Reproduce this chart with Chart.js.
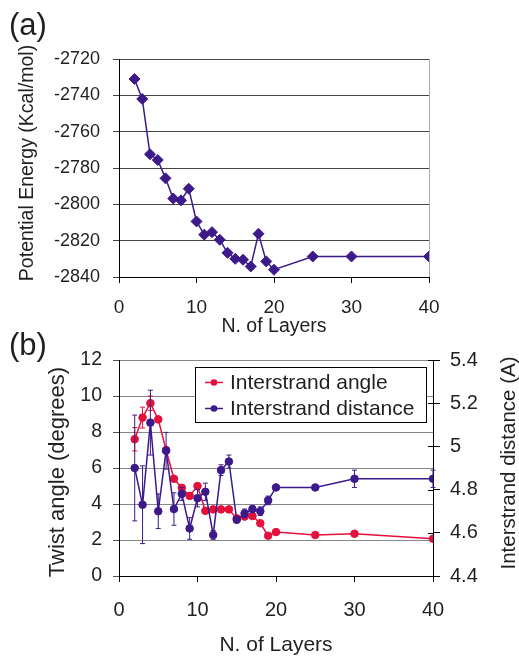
<!DOCTYPE html>
<html>
<head>
<meta charset="utf-8">
<script src="https://cdn.jsdelivr.net/npm/chart.js@4.4.0/dist/chart.umd.min.js"></script>
<style>
  html, body { margin: 0; padding: 0; background: #fff; }
  #wrap { position: relative; width: 519px; height: 656px; overflow: hidden; }
  canvas { position: absolute; left: 0; }
  #energy { top: 0; }
  #twist { top: 330px; }
</style>
</head>
<body>
<div id="wrap">
  <canvas id="energy" width="519" height="340"></canvas>
  <canvas id="twist" width="519" height="326"></canvas>
</div>
<script>
// number of layers (shared x values of both panels)
const layers = [2, 3, 4, 5, 6, 7, 8, 9, 10, 11, 12, 13, 14, 15, 16, 17, 18, 19, 20, 25, 30, 40];

// (a) potential energy, Kcal/mol
const energy = [-2731, -2742, -2772.4, -2775.6, -2785.7, -2796.8, -2797.8, -2791.4, -2809.4, -2816.7,
  -2815.3, -2819.5, -2826.7, -2830, -2830.5, -2834.2, -2816.2, -2831.4, -2836, -2828.7, -2828.7, -2828.7];

// (b) twist angle (degrees) and its error
const angle = [7.6, 8.8, 9.6, 8.7, 7.0, 5.4, 4.9, 4.45, 5.0, 3.62, 3.7, 3.7, 3.7, 3.2, 3.3, 3.33,
  2.93, 2.24, 2.44, 2.28, 2.35, 2.07];
const angleErr = [0.65, 0.58, 0.4, 0, 0, 0, 0, 0, 0, 0, 0, 0, 0, 0, 0, 0, 0, 0, 0, 0, 0, 0];

// (b) interstrand distance (A) and its error
const distance = [4.90, 4.73, 5.11, 4.70, 4.98, 4.71, 4.78, 4.62, 4.76, 4.79, 4.59, 4.89, 4.93, 4.66,
  4.69, 4.71, 4.70, 4.75, 4.81, 4.81, 4.85, 4.85];
const distErr = [0.245, 0.18, 0.15, 0.08, 0.085, 0.075, 0.03, 0.05, 0.04, 0.04, 0.02, 0.025, 0.03, 0,
  0.02, 0.015, 0.02, 0.02, 0, 0, 0.04, 0.04];

const PURPLE = '#3d1a8a';
const RED = '#e3103c';
const TEXT = '#231f20';
const FONT = '"Liberation Sans", Arial, sans-serif';

Chart.defaults.font.family = FONT;
Chart.defaults.color = TEXT;

const points = (ys) => layers.map((x, i) => ({ x: x, y: ys[i] }));
const plain = (v) => String(+v.toFixed(1));

// panel letter and the vertical axis titles (all read bottom-to-top)
// note: the built-in y title together with the x title made the "0" x label vanish
const sideText = {
  id: 'sideText',
  afterDraw(chart, args, opts) {
    const ctx = chart.ctx;
    ctx.save();
    ctx.fillStyle = TEXT;
    ctx.font = '31px ' + FONT;
    ctx.textBaseline = 'alphabetic';
    ctx.fillText(opts.panel, opts.panelX, opts.panelY);
    ctx.textAlign = 'center';
    ctx.textBaseline = 'middle';
    opts.titles.forEach((t) => {
      ctx.save();
      ctx.translate(t.x, t.y);
      ctx.rotate(-Math.PI / 2);
      ctx.font = t.size + 'px ' + FONT;
      ctx.fillText(t.text, 0, 0);
      ctx.restore();
    });
    ctx.restore();
  }
};

// vertical error bars, drawn with the dataset's own y scale
const errorBars = {
  id: 'errorBars',
  afterDatasetDraw(chart, args) {
    const ds = chart.data.datasets[args.index];
    if (!ds.errors) return;
    const meta = args.meta;
    const yScale = chart.scales[meta.yAxisID];
    const ctx = chart.ctx;
    ctx.save();
    ctx.strokeStyle = ds.borderColor;
    ctx.lineWidth = 1;
    meta.data.forEach((pt, i) => {
      const e = ds.errors[i];
      if (!e) return;
      const v = ds.data[i].y;
      const top = yScale.getPixelForValue(v + e);
      const bot = yScale.getPixelForValue(v - e);
      ctx.beginPath();
      ctx.moveTo(pt.x, top); ctx.lineTo(pt.x, bot);
      ctx.moveTo(pt.x - 2.5, top); ctx.lineTo(pt.x + 2.5, top);
      ctx.moveTo(pt.x - 2.5, bot); ctx.lineTo(pt.x + 2.5, bot);
      ctx.stroke();
    });
    ctx.restore();
  }
};

// boxed legend inside the plot + inner half of the right-axis ticks
const boxLegend = {
  id: 'boxLegend',
  afterDraw(chart) {
    const ctx = chart.ctx;
    const area = chart.chartArea;
    ctx.save();

    const y2 = chart.scales.y2;
    ctx.strokeStyle = '#000';
    ctx.lineWidth = 1;
    ctx.beginPath();
    y2.ticks.forEach((t) => {
      const py = Math.round(y2.getPixelForValue(t.value)) + 0.5;
      ctx.moveTo(area.right - 5, py);
      ctx.lineTo(area.right, py);
    });
    ctx.stroke();

    ctx.fillStyle = '#fff';
    ctx.fillRect(195, 37, 232, 56);
    ctx.strokeRect(195.5, 37.5, 231, 55);
    ctx.font = '21px ' + FONT;
    ctx.textBaseline = 'middle';
    chart.data.datasets.forEach((ds, i) => {
      const y = 52.5 + i * 26;
      ctx.strokeStyle = ds.borderColor;
      ctx.lineWidth = 1.5;
      ctx.beginPath();
      ctx.moveTo(205, y); ctx.lineTo(223, y);
      ctx.stroke();
      ctx.fillStyle = ds.borderColor;
      ctx.beginPath();
      ctx.arc(214, y, 3.3, 0, Math.PI * 2);
      ctx.fill();
      ctx.fillStyle = TEXT;
      ctx.fillText(ds.label, 230, y + 1);
    });
    ctx.restore();
  }
};

new Chart(document.getElementById('energy'), {
  type: 'line',
  data: {
    datasets: [{
      label: 'Potential Energy',
      data: points(energy),
      borderColor: PURPLE,
      backgroundColor: PURPLE,
      borderWidth: 1.5,
      pointStyle: 'rectRot',
      pointRadius: 5.5,
      pointBorderWidth: 1,
      tension: 0
    }]
  },
  options: {
    responsive: false,
    animation: false,
    devicePixelRatio: 1,
    layout: { padding: { top: 59, right: 90, left: 0, bottom: 0 } },
    plugins: {
      legend: { display: false },
      tooltip: { enabled: false },
      sideText: {
        panel: '(a)', panelX: 9, panelY: 35,
        titles: [{ text: 'Potential Energy (Kcal/mol)', x: 28, y: 163, size: 19.5 }]
      }
    },
    scales: {
      x: {
        type: 'linear', min: 0, max: 40,
        ticks: { stepSize: 10, padding: 15, autoSkip: false, font: { size: 19, lineHeight: 1 }, callback: plain },
        grid: {
          color: (c) => (c.tick && c.tick.value === 40 ? '#aaaaaa' : 'transparent'),
          tickColor: '#000', tickLength: 6
        },
        border: { color: '#000' },
        title: { display: true, text: 'N. of Layers', font: { size: 19.5, lineHeight: 1 }, padding: { top: 0, bottom: 4 } },
        afterFit: (s) => { s.height = 63; }
      },
      y: {
        min: -2840, max: -2720,
        ticks: { stepSize: 20, padding: 13, font: { size: 18, lineHeight: 1 }, callback: plain },
        grid: { color: '#444', tickColor: '#444', tickLength: 6 },
        border: { color: '#000' },
        afterFit: (s) => { s.width = 119; }
      }
    }
  },
  plugins: [sideText]
});

new Chart(document.getElementById('twist'), {
  type: 'line',
  data: {
    datasets: [{
      label: 'Interstrand angle',
      data: points(angle),
      errors: angleErr,
      yAxisID: 'y',
      order: 1,
      borderColor: RED,
      backgroundColor: RED,
      borderWidth: 1.5,
      pointRadius: 3.8,
      pointBorderWidth: 1,
      tension: 0
    }, {
      label: 'Interstrand distance',
      data: points(distance),
      errors: distErr,
      yAxisID: 'y2',
      order: 0,
      borderColor: PURPLE,
      backgroundColor: PURPLE,
      borderWidth: 1.5,
      pointRadius: 3.8,
      pointBorderWidth: 1,
      tension: 0
    }]
  },
  options: {
    responsive: false,
    animation: false,
    devicePixelRatio: 1,
    layout: { padding: { top: 30, right: 0, left: 0, bottom: 0 } },
    plugins: {
      legend: { display: false },
      tooltip: { enabled: false },
      sideText: {
        panel: '(b)', panelX: 9, panelY: 25,
        titles: [
          { text: 'Twist angle (degrees)', x: 58, y: 142, size: 22 },
          { text: 'Interstrand distance (A)', x: 509, y: 133, size: 20.5 }
        ]
      }
    },
    scales: {
      x: {
        type: 'linear', min: 0, max: 40,
        ticks: { stepSize: 10, padding: 18, autoSkip: false, font: { size: 20, lineHeight: 1 }, callback: plain },
        grid: { drawOnChartArea: false, tickColor: '#000', tickLength: 6 },
        border: { color: '#000' },
        title: { display: true, text: 'N. of Layers', font: { size: 21, lineHeight: 1 }, padding: { top: 0, bottom: 0 } },
        afterFit: (s) => { s.height = 80; }
      },
      y: {
        position: 'left', min: 0, max: 12,
        ticks: { stepSize: 2, padding: 11, font: { size: 19.5, lineHeight: 1 }, callback: plain },
        grid: { color: '#888', tickColor: '#555', tickLength: 6 },
        border: { color: '#000' },
        afterFit: (s) => { s.width = 119; }
      },
      y2: {
        position: 'right', min: 4.4, max: 5.4,
        ticks: { stepSize: 0.2, padding: 10, font: { size: 20, lineHeight: 1 }, callback: plain },
        grid: { drawOnChartArea: false, tickColor: '#000', tickLength: 7 },
        border: { color: '#000' },
        afterFit: (s) => { s.width = 86; }
      }
    }
  },
  plugins: [errorBars, boxLegend, sideText]
});
</script>
</body>
</html>
